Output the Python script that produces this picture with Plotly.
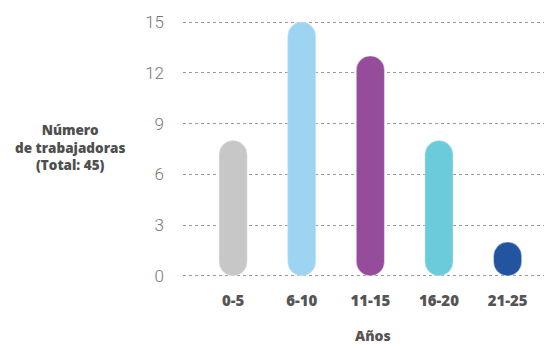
import plotly.graph_objects as go

categories = ["0-5", "6-10", "11-15", "16-20", "21-25"]
values = [8, 15, 13, 8, 2]
bases = [0, 0, 0, 0, 0]
colors = ["#c6c7c6", "#9dd4f1", "#944c9b", "#6acbdb", "#2354a0"]
y_ticks = [0, 3, 6, 9, 12, 15]
y_title = "Número<br>de trabajadoras<br>(Total: 45)"
x_title = "Años"

fig = go.Figure()
# With an explicit base, plotly rounds both ends of the bar -> pill shape
fig.add_trace(go.Bar(x=categories, y=values, base=bases,
                     marker=dict(color=colors, cornerradius="50%"),
                     width=0.41, hoverinfo="skip", showlegend=False))

fig.update_layout(
    width=545, height=345,
    margin=dict(l=183, r=1, t=17, b=64),
    paper_bgcolor="white", plot_bgcolor="white",
    xaxis=dict(
        type="category", range=[-0.73, 4.53], showgrid=False, zeroline=False,
        showline=False, ticks="",
        tickfont=dict(family="Open Sans", size=15, color="#555555", weight=800),
        ticklabelstandoff=9,
    ),
    yaxis=dict(
        range=[-0.3, 15.3], tickvals=y_ticks, showgrid=True, gridcolor="#9a9a9a",
        griddash="dot", gridwidth=1, zeroline=False, showline=False, ticks="",
        tickfont=dict(family="Roboto", size=17, color="#777777", weight=300),
        ticklabelstandoff=18,
    ),
    annotations=[
        dict(text=y_title, xref="paper", yref="paper", x=-0.313, y=0.507,
             showarrow=False, xanchor="center", yanchor="middle", align="center",
             font=dict(family="Open Sans", size=13.5, color="#4f4f4f", weight=800)),
        dict(text=x_title, xref="paper", yref="paper", x=0.525, y=-0.205,
             showarrow=False, xanchor="center", yanchor="middle",
             font=dict(family="Open Sans", size=14, color="#555555", weight=800)),
    ],
)

fig.write_html("out.html")
